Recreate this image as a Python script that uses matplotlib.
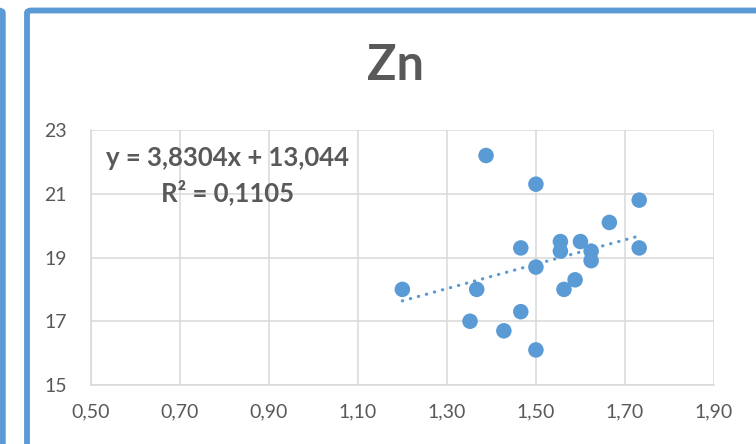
import matplotlib
matplotlib.use("Agg")
import matplotlib.pyplot as plt
from matplotlib.patches import FancyBboxPatch
from matplotlib.ticker import FixedLocator, FuncFormatter
import numpy as np

# Zn concentration vs. x (scatter with linear trend)
x_vals = [1.20, 1.388, 1.50, 1.732, 1.665, 1.466, 1.555, 1.60, 1.555, 1.624,
          1.624, 1.732, 1.50, 1.588, 1.367, 1.563, 1.466, 1.352, 1.428, 1.50]
y_vals = [18.0, 22.2, 21.3, 20.8, 20.1, 19.3, 19.5, 19.5, 19.2, 19.2,
          18.9, 19.3, 18.7, 18.3, 18.0, 18.0, 17.3, 17.0, 16.7, 16.1]

slope = 3.8304
intercept = 13.044
r_squared = 0.1105

x_ticks = [0.50, 0.70, 0.90, 1.10, 1.30, 1.50, 1.70, 1.90]
y_ticks = [15, 17, 19, 21, 23]

title_text = "Zn"
blue = "#5b9bd5"
text_grey = "#595959"
grid_grey = "#d9d9d9"

plt.rcParams["font.family"] = ["Lato", "DejaVu Sans"]

W, H = 756, 444
fig = plt.figure(figsize=(W / 100, H / 100), dpi=100)
fig.patch.set_facecolor("white")


def px(x0, y0, x1, y1):
    """pixel box (top-left origin) -> figure fraction (left, bottom, width, height)"""
    return x0 / W, 1 - y1 / H, (x1 - x0) / W, (y1 - y0) / H


# chart frames
l, b, w, h = px(27, 10.5, 900, 700)
fig.patches.append(FancyBboxPatch((l, b), w, h, boxstyle="round,pad=0,rounding_size=0.006",
                                  transform=fig.transFigure, facecolor="none",
                                  edgecolor=blue, linewidth=4.2, zorder=0))
l, b, w, h = px(-300, 10.5, 2.8, 700)
fig.patches.append(FancyBboxPatch((l, b), w, h, boxstyle="round,pad=0,rounding_size=0.006",
                                  transform=fig.transFigure, facecolor="none",
                                  edgecolor=blue, linewidth=4.2, zorder=0))

ax = fig.add_axes(px(90.7, 130, 714, 385))
ax.set_xlim(x_ticks[0], x_ticks[-1])
ax.set_ylim(y_ticks[0], y_ticks[-1])
ax.xaxis.set_major_locator(FixedLocator(x_ticks))
ax.yaxis.set_major_locator(FixedLocator(y_ticks))
ax.xaxis.set_major_formatter(FuncFormatter(lambda v, p: f"{v:.2f}".replace(".", ",")))
ax.yaxis.set_major_formatter(FuncFormatter(lambda v, p: f"{v:.0f}"))
ax.grid(True, color=grid_grey, linewidth=1.1, zorder=0)
ax.set_axisbelow(True)
for side, sp in ax.spines.items():
    if side in ("left", "bottom"):
        sp.set_color(grid_grey)
        sp.set_linewidth(1.1)
    else:
        sp.set_visible(False)
ax.tick_params(axis="both", length=0, labelsize=14, labelcolor=text_grey)
ax.tick_params(axis="y", pad=17)
ax.tick_params(axis="x", pad=13)

ax.scatter(x_vals, y_vals, s=125, color=blue, edgecolors="none", zorder=3)

tx = np.array([min(x_vals), max(x_vals)])
ax.plot(tx, slope * tx + intercept, color=blue, linewidth=2.3,
        linestyle=(0, (0.1, 2.5)), dash_capstyle="round", zorder=2)

eq = f"y = {slope:.4f}x + {intercept:.3f}".replace(".", ",")
r2 = f"R² = {r_squared:.4f}".replace(".", ",")
fig.text(228 / W, 1 - 158 / H, eq, ha="center", va="center", fontsize=18.5,
         fontweight="bold", color=text_grey)
fig.text(228 / W, 1 - 192 / H, r2, ha="center", va="center", fontsize=18.5,
         fontweight="bold", color=text_grey)

fig.text(396 / W, 1 - 66 / H, title_text, ha="center", va="center", fontsize=35,
         fontweight="bold", color=text_grey)

fig.savefig("out.png", dpi=100, facecolor="white")
